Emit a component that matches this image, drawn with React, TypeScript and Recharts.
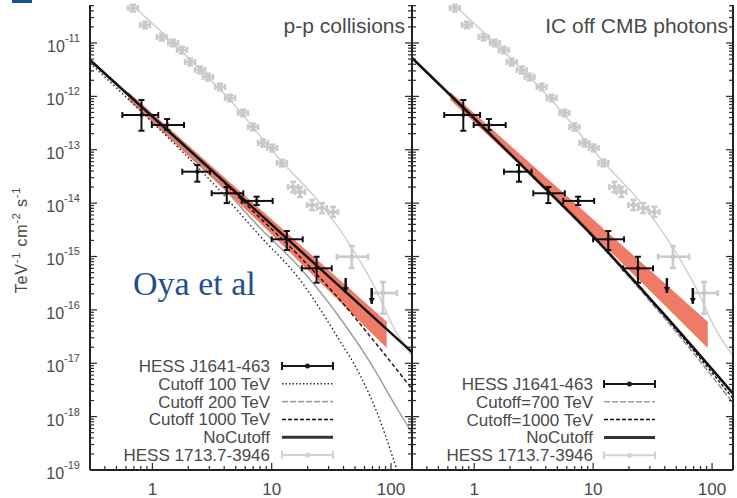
import React from "react";
import {
  ComposedChart,
  Area,
  Line,
  Scatter,
  ErrorBar,
  XAxis,
  YAxis,
  Legend,
} from "recharts";

const FONT = "'Liberation Sans', Arial, Helvetica, sans-serif";
const TICK = "#2a2a2a";
const LABEL = "#4a4a4a";
const FRAME = { stroke: "#222", strokeWidth: 2 };

const X_MIN = 0.3;
const X_MAX = 150;
const Y_MIN = 1e-19;
const Y_MAX = 5.15e-11;

// axis ticks
const xMajor = [1, 10, 100];
const xMajorLabels = ["1", "10", "100"];
const xTicks = [
  0.3, 0.4, 0.5, 0.6, 0.7, 0.8, 0.9, 1, 2, 3, 4, 5, 6, 7, 8, 9, 10, 20, 30,
  40, 50, 60, 70, 80, 90, 100,
];
const yExps = [-19, -18, -17, -16, -15, -14, -13, -12, -11];
const yExpLabels = ["-19", "-18", "-17", "-16", "-15", "-14", "-13", "-12", "-11"];
const yMinorSteps = [1, 2, 3, 4, 5, 6, 7, 8, 9];
const yTicks = yExps
  .flatMap((p) => yMinorSteps.map((m) => m * Math.pow(10, p)))
  .filter((v) => v <= Y_MAX);

// HESS J1641-463 (TeV, TeV^-1 cm^-2 s^-1)
const j1641E = [0.81, 1.33, 2.38, 4.2, 7.48, 13.4, 23.8];
const j1641ELo = [0.56, 0.99, 1.78, 3.14, 5.61, 10.0, 17.9];
const j1641EHi = [1.12, 1.84, 3.04, 5.78, 10.2, 18.2, 31.9];
const j1641F = [4.48e-13, 2.91e-13, 3.88e-14, 1.53e-14, 1.1e-14, 2.1e-15, 6.0e-16];
const j1641FLo = [2.27e-13, 2.34e-13, 2.52e-14, 1.0e-14, 9.2e-15, 1.32e-15, 3.23e-16];
const j1641FHi = [8.55e-13, 3.77e-13, 5.18e-14, 2.0e-14, 1.32e-14, 3.0e-15, 9.9e-16];

// HESS J1641-463 upper limits
const ulE = [41.7, 68.9];
const ulTop = [3.95e-16, 2.57e-16];
const ulTip = [2.07e-16, 1.29e-16];

// HESS 1713.7-3946
const rxE = [
  0.687, 0.867, 1.2, 1.49, 1.77, 2.07, 2.51, 2.92, 3.69, 4.47, 5.74, 6.97,
  8.45, 10.1, 12.2, 15.1, 17.3, 21.8, 26.4, 32.7, 46.9, 85.7,
];
const rxELo = [
  0.625, 0.79, 1.09, 1.36, 1.61, 1.88, 2.28, 2.66, 3.36, 4.07, 5.22, 6.34, 7.69,
  9.2, 11.1, 13.7, 15.7, 19.8, 24.0, 29.8, 35.2, 69.3,
];
const rxEHi = [
  0.755, 0.953, 1.32, 1.64, 1.95, 2.28, 2.76, 3.21, 4.06, 4.92, 6.31, 7.67, 9.3,
  11.1, 13.4, 16.6, 19.0, 24.0, 29.0, 36.0, 64.1, 112,
];
const rxF = [
  4.53e-11, 2.17e-11, 1.29e-11, 1.0e-11, 7.4e-12, 4.4e-12, 3.12e-12, 2.31e-12,
  1.5e-12, 9.3e-13, 4.89e-13, 2.67e-13, 1.34e-13, 1.08e-13, 5.65e-14, 2.0e-14,
  1.62e-14, 9.2e-15, 8.1e-15, 6.8e-15, 9.9e-16, 2.07e-16,
];
const rxFLo = [
  3.9e-11, 1.89e-11, 1.12e-11, 8.7e-12, 6.4e-12, 3.8e-12, 2.7e-12, 2.0e-12,
  1.3e-12, 8.1e-13, 4.25e-13, 2.3e-13, 1.15e-13, 9.3e-14, 4.9e-14, 1.6e-14,
  1.3e-14, 7.4e-15, 6.5e-15, 5.5e-15, 6.1e-16, 8.5e-17,
];
const rxFHi = [
  5.2e-11, 2.5e-11, 1.48e-11, 1.15e-11, 8.5e-12, 5.1e-12, 3.6e-12, 2.66e-12,
  1.73e-12, 1.07e-12, 5.6e-13, 3.1e-13, 1.55e-13, 1.25e-13, 6.5e-14, 2.5e-14,
  2.0e-14, 1.15e-14, 1.0e-14, 8.5e-15, 1.57e-15, 3.33e-16,
];
const rxLineE = [0.55, 1.55, 4.47, 12.2, 25.4, 47.1, 73.5, 108, 150];
const rxLineF = [7.9e-11, 9.2e-12, 8.55e-13, 5.9e-14, 1.0e-14, 1.44e-15, 2.57e-16, 4.2e-17, 1.37e-17];

// fit band
const bandE = [0.63, 7.98, 92];
const bandLo = [8.55e-13, 4.25e-15, 1.93e-17];
const bandHi = [1.21e-12, 7.76e-15, 6.0e-17];

// p-p collision models
const ppNoCutE = [0.3, 6.58, 150];
const ppNoCutF = [4.8e-12, 9.2e-15, 1.62e-17];
const pp1000E = [0.3, 0.955, 3.04, 7.98, 17.3, 37.4, 77.8, 150];
const pp1000F = [4.8e-12, 4.68e-13, 4.36e-14, 5.26e-15, 9.8e-16, 1.53e-16, 2.1e-17, 3.3e-18];
const pp200E = [0.3, 0.955, 3.04, 7.98, 17.3, 37.4, 66.7, 108, 150];
const pp200F = [4.6e-12, 4.29e-13, 3.66e-14, 3.42e-15, 6.1e-16, 7.05e-17, 1.05e-17, 1.65e-18, 4.93e-19];
const pp100E = [0.3, 0.955, 3.04, 7.98, 17.3, 36.0, 55.0, 77.8, 102, 119];
const pp100F = [4.2e-12, 3.6e-13, 2.71e-14, 2.42e-15, 3.63e-16, 2.97e-17, 6.0e-18, 1.07e-18, 1.91e-19, 6.5e-20];

// IC off CMB models
const icNoCutE = [0.3, 0.918, 2.92, 10.7, 36.0, 150];
const icNoCutF = [5.24e-12, 4.68e-13, 3.66e-14, 2.04e-15, 1.04e-16, 2.7e-18];
const ic1000E = [0.3, 0.918, 2.92, 10.7, 36.0, 77.8, 150];
const ic1000F = [5.24e-12, 4.68e-13, 3.66e-14, 2.04e-15, 9.95e-17, 1.31e-17, 2.2e-18];
const ic700E = [0.3, 0.918, 2.92, 10.7, 36.0, 77.8, 150];
const ic700F = [5.24e-12, 4.68e-13, 3.66e-14, 1.95e-15, 9.1e-17, 1.15e-17, 1.8e-18];

type Model = { name: string; e: number[]; f: number[]; stroke: string; width: number; dash?: string };

const ppModels: Model[] = [
  { name: "Cutoff 100 TeV", e: pp100E, f: pp100F, stroke: "#222", width: 1.4, dash: "1.5 2.5" },
  { name: "Cutoff 200 TeV", e: pp200E, f: pp200F, stroke: "#9a9a9a", width: 1.4 },
  { name: "Cutoff 1000 TeV", e: pp1000E, f: pp1000F, stroke: "#111", width: 1.4, dash: "4 2.5" },
  { name: "NoCutoff", e: ppNoCutE, f: ppNoCutF, stroke: "#111", width: 2.4 },
];

const icModels: Model[] = [
  { name: "Cutoff=700 TeV", e: ic700E, f: ic700F, stroke: "#8a8a8a", width: 1.4, dash: "6 2" },
  { name: "Cutoff=1000 TeV", e: ic1000E, f: ic1000F, stroke: "#111", width: 1.4, dash: "3 2" },
  { name: "NoCutoff", e: icNoCutE, f: icNoCutF, stroke: "#111", width: 2.6 },
];

type Kind = "data" | "dotted" | "grayDash" | "dashed" | "solid" | "gray";
type LegendRow = { label: string; kind: Kind };

const ppLegend: LegendRow[] = [
  { label: "HESS J1641-463", kind: "data" },
  { label: "Cutoff 100 TeV", kind: "dotted" },
  { label: "Cutoff 200 TeV", kind: "grayDash" },
  { label: "Cutoff 1000 TeV", kind: "dashed" },
  { label: "NoCutoff", kind: "solid" },
  { label: "HESS 1713.7-3946", kind: "gray" },
];

const icLegend: LegendRow[] = [
  { label: "HESS J1641-463", kind: "data" },
  { label: "Cutoff=700 TeV", kind: "grayDash" },
  { label: "Cutoff=1000 TeV", kind: "dashed" },
  { label: "NoCutoff", kind: "solid" },
  { label: "HESS 1713.7-3946", kind: "gray" },
];

const pts = (es: number[], fs: number[]) => es.map((e, i) => ({ e, f: fs[i] }));

const errPts = (
  es: number[], elo: number[], ehi: number[],
  fs: number[], flo: number[], fhi: number[]
) =>
  es.map((e, i) => ({
    e,
    f: fs[i],
    ex: [e - elo[i], ehi[i] - e],
    ey: [fs[i] - flo[i], fhi[i] - fs[i]],
  }));

const bandRows = bandE.map((e, i) => ({ e, band: [bandLo[i], bandHi[i]] }));
const j1641Rows = errPts(j1641E, j1641ELo, j1641EHi, j1641F, j1641FLo, j1641FHi);
const rxRows = errPts(rxE, rxELo, rxEHi, rxF, rxFLo, rxFHi);
const rxLine = pts(rxLineE, rxLineF);
const ulRows = ulE.map((e, i) => ({ e, f: ulTip[i], ey: [0, ulTop[i] - ulTip[i]] }));

const isDecade = (v: number) => {
  const l = Math.log10(v);
  return Math.abs(l - Math.round(l)) < 1e-6;
};

const BottomTick = (p: any) => {
  const { x, y, payload } = p;
  const v = payload.value as number;
  const major = isDecade(v);
  const idx = xMajor.findIndex((m) => Math.abs(m - v) < 1e-9);
  return (
    <g>
      <line x1={x} x2={x} y1={y} y2={y - (major ? 7 : 4)} stroke={TICK} strokeWidth={1.2} />
      {idx >= 0 && (
        <text x={x} y={y + 25} textAnchor="middle" fontSize={17} fill={LABEL} fontFamily={FONT}>
          {xMajorLabels[idx]}
        </text>
      )}
    </g>
  );
};

const TopTick = (p: any) => {
  const { x, y, payload } = p;
  const major = isDecade(payload.value);
  return <line x1={x} x2={x} y1={y} y2={y + (major ? 7 : 4)} stroke={TICK} strokeWidth={1.2} />;
};

const makeLeftTick = (showLabels: boolean) => (p: any) => {
  const { x, y, payload } = p;
  const v = payload.value as number;
  const major = isDecade(v);
  const idx = yExps.findIndex((e) => e === Math.round(Math.log10(v)));
  return (
    <g>
      <line x1={x} x2={x + (major ? 7 : 4)} y1={y} y2={y} stroke={TICK} strokeWidth={1.2} />
      {showLabels && major && idx >= 0 && (
        <text x={x - 10} y={y + 9} textAnchor="end" fontSize={16} fill={LABEL} fontFamily={FONT}>
          10
          <tspan dy={-10} fontSize={11}>
            {yExpLabels[idx]}
          </tspan>
        </text>
      )}
    </g>
  );
};

const RightTick = (p: any) => {
  const { x, y, payload } = p;
  const major = isDecade(payload.value);
  return <line x1={x} x2={x - (major ? 7 : 4)} y1={y} y2={y} stroke={TICK} strokeWidth={1.2} />;
};

function LegendSvg({
  rows, width, textRight, x1, x2, top,
}: { rows: LegendRow[]; width: number; textRight: number; x1: number; x2: number; top: number }) {
  const sample = (kind: Kind, y: number) => {
    const mid = (x1 + x2) / 2;
    if (kind === "data" || kind === "gray") {
      const c = kind === "data" ? "#1a1a1a" : "#d2d2d2";
      return (
        <g stroke={c} strokeWidth={2}>
          <line x1={x1} x2={x2} y1={y} y2={y} />
          <line x1={x1} x2={x1} y1={y - 4} y2={y + 4} />
          <line x1={x2} x2={x2} y1={y - 4} y2={y + 4} />
          <circle cx={mid} cy={y} r={2.5} fill={c} stroke="none" />
        </g>
      );
    }
    const style: Record<Kind, { s: string; w: number; d?: string }> = {
      data: { s: "#000", w: 1 },
      gray: { s: "#000", w: 1 },
      dotted: { s: "#333", w: 1.5, d: "1.5 2" },
      grayDash: { s: "#a0a0a0", w: 1.6, d: "6 2" },
      dashed: { s: "#111", w: 1.5, d: "4 2" },
      solid: { s: "#333", w: 3 },
    };
    const st = style[kind];
    return <line x1={x1} x2={x2} y1={y} y2={y} stroke={st.s} strokeWidth={st.w} strokeDasharray={st.d} />;
  };
  return (
    <svg width={width} height={498} style={{ position: "absolute", left: 0, top: 0 }}>
      {rows.map((r, i) => {
        const y = top + i * 17.8;
        return (
          <g key={r.label}>
            <text x={textRight} y={y + 6} textAnchor="end" fontSize={17} fill={LABEL} fontFamily={FONT}>
              {r.label}
            </text>
            {sample(r.kind, y)}
          </g>
        );
      })}
    </svg>
  );
}

type PanelProps = {
  left: number;
  width: number;
  yAxisW: number;
  rightW: number;
  showYLabels: boolean;
  models: Model[];
  legendRows: LegendRow[];
  legendTextRight: number;
  legendX1: number;
  legendX2: number;
  legendTop: number;
  children?: React.ReactNode;
};

function Panel(props: PanelProps) {
  const { left, width, yAxisW, rightW, showYLabels, models } = props;
  return (
    <div style={{ position: "absolute", left, top: 0 }}>
      <ComposedChart
        width={width}
        height={498}
        data={bandRows}
        margin={{ top: 5, right: 0, bottom: 0, left: 0 }}
      >
        <XAxis
          dataKey="e"
          type="number"
          scale="log"
          domain={[X_MIN, X_MAX]}
          allowDataOverflow
          ticks={xTicks}
          interval={0}
          height={28}
          tickSize={0}
          tickMargin={0}
          tickLine={false}
          axisLine={FRAME}
          tick={(p: any) => <BottomTick {...p} />}
        />
        <XAxis
          xAxisId="top"
          orientation="top"
          dataKey="e"
          type="number"
          scale="log"
          domain={[X_MIN, X_MAX]}
          allowDataOverflow
          ticks={xTicks}
          interval={0}
          height={0}
          tickSize={0}
          tickMargin={0}
          tickLine={false}
          axisLine={FRAME}
          tick={(p: any) => <TopTick {...p} />}
        />
        <YAxis
          type="number"
          scale="log"
          domain={[Y_MIN, Y_MAX]}
          allowDataOverflow
          ticks={yTicks}
          interval={0}
          width={yAxisW}
          tickSize={0}
          tickMargin={0}
          tickLine={false}
          axisLine={FRAME}
          tick={makeLeftTick(showYLabels)}
        />
        <YAxis
          yAxisId="right"
          orientation="right"
          type="number"
          scale="log"
          domain={[Y_MIN, Y_MAX]}
          allowDataOverflow
          ticks={yTicks}
          interval={0}
          width={rightW}
          tickSize={0}
          tickMargin={0}
          tickLine={false}
          axisLine={FRAME}
          tick={(p: any) => <RightTick {...p} />}
        />

        <Area
          dataKey="band"
          type="linear"
          fill="#f07a68"
          fillOpacity={1}
          stroke="none"
          isAnimationActive={false}
        />

        <Line
          data={rxLine}
          dataKey="f"
          type="monotone"
          stroke="#d0d0d0"
          strokeWidth={1.5}
          dot={false}
          isAnimationActive={false}
        />
        <Scatter
          data={rxRows}
          dataKey="f"
          isAnimationActive={false}
          shape={(p: any) => <circle cx={p.cx} cy={p.cy} r={2.5} fill="#c8c8c8" />}
        >
          <ErrorBar dataKey="ex" direction="x" stroke="#cbcbcb" strokeWidth={2.6} width={3} isAnimationActive={false} />
          <ErrorBar dataKey="ey" direction="y" stroke="#cbcbcb" strokeWidth={2.6} width={3} isAnimationActive={false} />
        </Scatter>

        {models.map((m) => (
          <Line
            key={m.name}
            data={pts(m.e, m.f)}
            dataKey="f"
            type="monotone"
            stroke={m.stroke}
            strokeWidth={m.width}
            strokeDasharray={m.dash}
            dot={false}
            isAnimationActive={false}
          />
        ))}

        <Scatter
          data={j1641Rows}
          dataKey="f"
          isAnimationActive={false}
          shape={(p: any) => <circle cx={p.cx} cy={p.cy} r={2} fill="#111" />}
        >
          <ErrorBar dataKey="ex" direction="x" stroke="#111" strokeWidth={2} width={3} isAnimationActive={false} />
          <ErrorBar dataKey="ey" direction="y" stroke="#111" strokeWidth={2} width={3} isAnimationActive={false} />
        </Scatter>
        <Scatter
          data={ulRows}
          dataKey="f"
          isAnimationActive={false}
          shape={(p: any) => (
            <path d={`M${p.cx - 3},${p.cy - 6}L${p.cx + 3},${p.cy - 6}L${p.cx},${p.cy}Z`} fill="#111" />
          )}
        >
          <ErrorBar dataKey="ey" direction="y" stroke="#111" strokeWidth={2.5} width={0} isAnimationActive={false} />
        </Scatter>

        <Legend
          layout="horizontal"
          verticalAlign="middle"
          align="center"
          wrapperStyle={{ left: 0, top: 0, width, height: 498, pointerEvents: "none" }}
          content={() => (
            <LegendSvg
              rows={props.legendRows}
              width={width}
              textRight={props.legendTextRight}
              x1={props.legendX1}
              x2={props.legendX2}
              top={props.legendTop}
            />
          )}
        />
        {props.children}
      </ComposedChart>
    </div>
  );
}

export default function App() {
  return (
    <div
      style={{
        position: "absolute",
        left: 0,
        top: 0,
        width: 737,
        height: 498,
        background: "#fff",
        overflow: "hidden",
      }}
    >
      <div style={{ position: "absolute", left: 12, top: 0, width: 20, height: 3, background: "#1e4f8f" }} />
      <Panel
        left={0}
        width={420}
        yAxisW={90}
        rightW={8}
        showYLabels
        models={ppModels}
        legendRows={ppLegend}
        legendTextRight={270}
        legendX1={282}
        legendX2={333}
        legendTop={366}
      >
        <text x={405} y={33} textAnchor="end" fontSize={21} fill={LABEL} fontFamily={FONT}>
          p-p collisions
        </text>
        <text x={133} y={295} fontSize={34} fill="#1e4f8f" fontFamily="'Liberation Serif', 'Times New Roman', serif">
          Oya et al
        </text>
        <text
          transform="translate(27,240) rotate(-90)"
          textAnchor="middle"
          fontSize={16}
          fill={LABEL}
          fontFamily={FONT}
          letterSpacing={0.8}
        >
          TeV
          <tspan dy={-7} fontSize={11}>-1</tspan>
          <tspan dy={7}>{" cm"}</tspan>
          <tspan dy={-7} fontSize={11}>-2</tspan>
          <tspan dy={7}>{" s"}</tspan>
          <tspan dy={-7} fontSize={11}>-1</tspan>
        </text>
      </Panel>
      <Panel
        left={402}
        width={335}
        yAxisW={10}
        rightW={4}
        showYLabels={false}
        models={icModels}
        legendRows={icLegend}
        legendTextRight={191}
        legendX1={202}
        legendX2={253}
        legendTop={384}
      >
        <text x={326} y={33} textAnchor="end" fontSize={21} fill={LABEL} fontFamily={FONT}>
          IC off CMB photons
        </text>
      </Panel>
    </div>
  );
}
